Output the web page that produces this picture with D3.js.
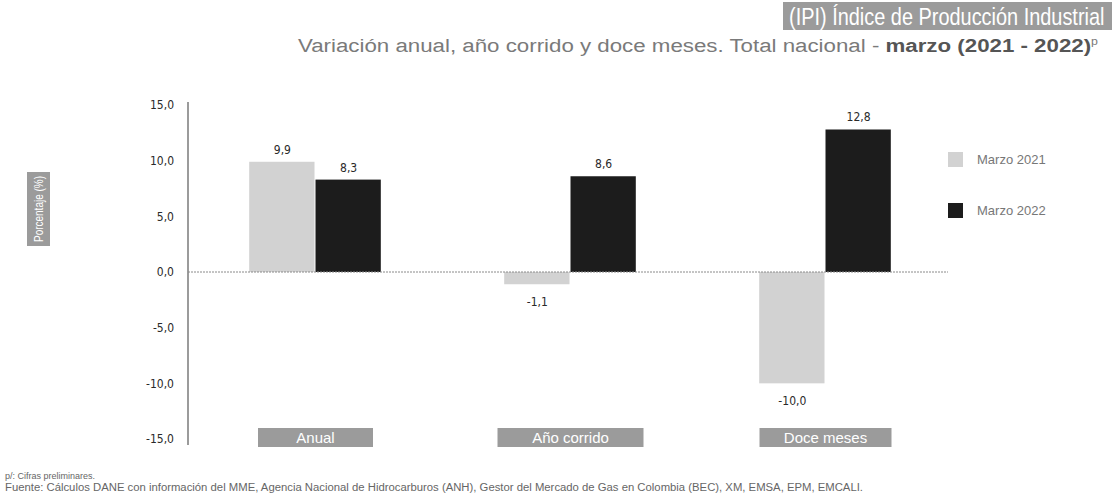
<!DOCTYPE html>
<html>
<head>
<meta charset="utf-8">
<script src="https://cdnjs.cloudflare.com/ajax/libs/d3/7.8.5/d3.min.js"></script>
<style>
  body { margin: 0; background: #fff; }
  svg { display: block; font-family: "Liberation Sans", Arial, sans-serif; }
</style>
</head>
<body>
<div id="chart"></div>
<script>
// data
var categories = ["Anual", "Año corrido", "Doce meses"];
var seriesNames = ["Marzo 2021", "Marzo 2022"];
var values2021 = [9.9, -1.1, -10.0];
var values2022 = [8.3, 8.6, 12.8];
var yTicks = [-15, -10, -5, 0, 5, 10, 15];

var W = 1112, H = 500;
var plot = {left: 188, right: 953, top: 105, bottom: 439};

var colors = ["#d2d2d2", "#1c1c1c"];
var boxGray = "#9b9b9b";

var fmt = function(v) { return d3.format(".1f")(v).replace(".", ",").replace("−", "-"); };

var svg = d3.select("#chart").append("svg")
    .attr("width", W)
    .attr("height", H);

// scales
var x0 = d3.scaleBand().domain(categories).range([plot.left, plot.right]).paddingInner(0.48).paddingOuter(0.24);
var x1 = d3.scaleBand().domain(seriesNames).range([0, x0.bandwidth()]).padding(0);
var y = d3.scaleLinear().domain([-15, 15]).range([plot.bottom, plot.top]);

// title box (text squeezed horizontally to fit like the condensed original)
svg.append("rect")
    .attr("x", 783).attr("y", 2)
    .attr("width", W - 783).attr("height", 28)
    .attr("fill", boxGray);
svg.append("text")
    .attr("transform", "translate(789,25) scale(0.83,1)")
    .attr("fill", "#fff")
    .style("font-size", "24px")
    .text("(IPI) Índice de Producción Industrial");

// subtitle
var sub = svg.append("text")
    .attr("x", 298).attr("y", 52)
    .attr("fill", "#7a7a7a")
    .attr("textLength", 800)
    .attr("lengthAdjust", "spacingAndGlyphs")
    .style("font-size", "18px");
sub.append("tspan").text("Variación anual, año corrido y doce meses. Total nacional - ");
sub.append("tspan").style("font-weight", "bold").attr("fill", "#555").text("marzo (2021 - 2022)");
sub.append("tspan").attr("dy", -7).style("font-size", "10px").text("p");

// y axis label box
svg.append("rect")
    .attr("x", 27).attr("y", 172)
    .attr("width", 23).attr("height", 74)
    .attr("fill", boxGray);
svg.append("text")
    .attr("transform", "translate(43," + 209 + ") rotate(-90)")
    .attr("text-anchor", "middle")
    .attr("fill", "#fff")
    .attr("textLength", 66)
    .attr("lengthAdjust", "spacingAndGlyphs")
    .style("font-size", "12px")
    .text("Porcentaje (%)");

// y axis
var yAxis = svg.append("g")
    .attr("transform", "translate(" + plot.left + ",0)")
    .call(d3.axisLeft(y).tickValues(yTicks).tickSize(0).tickPadding(14).tickFormat(fmt));
yAxis.select(".domain")
    .attr("stroke", "#7a7a7a")
    .attr("stroke-width", 1.5)
    .attr("d", "M0," + (plot.top - 3) + "V" + (plot.bottom + 6));
yAxis.selectAll("text")
    .attr("fill", "#2a2a2a")
    .style("font-size", "12px")
    .style("font-family", "'DejaVu Sans Condensed', sans-serif");

// bars
var rows = categories.map(function(c, i) {
    return {cat: c, vals: [values2021[i], values2022[i]]};
});

var groups = svg.selectAll(".grp")
    .data(rows)
    .enter().append("g")
    .attr("class", "grp")
    .attr("transform", function(d) { return "translate(" + x0(d.cat) + ",0)"; });

groups.selectAll("rect")
    .data(function(d) { return d.vals.map(function(v, j) { return {s: seriesNames[j], v: v, j: j}; }); })
    .enter().append("rect")
    .attr("x", function(d) { return x1(d.s); })
    .attr("width", x1.bandwidth() - 1)
    .attr("y", function(d) { return y(Math.max(0, d.v)); })
    .attr("height", function(d) { return Math.abs(y(d.v) - y(0)); })
    .attr("fill", function(d) { return colors[d.j]; });

// value labels
groups.selectAll(".val")
    .data(function(d) { return d.vals.map(function(v, j) { return {s: seriesNames[j], v: v, j: j}; }); })
    .enter().append("text")
    .attr("class", "val")
    .attr("x", function(d) { return x1(d.s) + x1.bandwidth() / 2; })
    .attr("y", function(d) { return d.v >= 0 ? y(d.v) - 8 : y(d.v) + 22; })
    .attr("text-anchor", "middle")
    .attr("fill", "#2a2a2a")
    .style("font-size", "12px")
    .style("font-family", "'DejaVu Sans Condensed', sans-serif")
    .text(function(d) { return fmt(d.v); });

// zero line
svg.append("line")
    .attr("x1", plot.left).attr("x2", plot.right - 5)
    .attr("y1", y(0)).attr("y2", y(0))
    .attr("stroke", "#8a8a8a")
    .attr("stroke-width", 1)
    .attr("stroke-dasharray", "2,1");

// category label boxes
var catW = [115, 146, 132];
categories.forEach(function(c, i) {
    var cx = x0(c) + x0.bandwidth() / 2;
    svg.append("rect")
        .attr("x", cx - catW[i] / 2).attr("y", 428)
        .attr("width", catW[i]).attr("height", 19)
        .attr("fill", boxGray);
    svg.append("text")
        .attr("x", cx).attr("y", 443)
        .attr("text-anchor", "middle")
        .attr("fill", "#fff")
        .style("font-size", "15px")
        .text(c);
});

// legend
var legend = svg.selectAll(".leg")
    .data(seriesNames)
    .enter().append("g")
    .attr("class", "leg")
    .attr("transform", function(d, i) { return "translate(948," + (152 + i * 51) + ")"; });
legend.append("rect")
    .attr("width", 15).attr("height", 15)
    .attr("fill", function(d, i) { return colors[i]; });
legend.append("text")
    .attr("x", 29).attr("y", 12)
    .attr("fill", "#777")
    .style("font-size", "13px")
    .text(function(d) { return d; });

// footnotes
svg.append("text")
    .attr("x", 5).attr("y", 479)
    .attr("fill", "#666")
    .style("font-size", "9px")
    .text("p/: Cifras preliminares.");
svg.append("text")
    .attr("x", 5).attr("y", 491)
    .attr("fill", "#666")
    .attr("textLength", 858)
    .attr("lengthAdjust", "spacingAndGlyphs")
    .style("font-size", "10px")
    .text("Fuente: Cálculos DANE con información del MME, Agencia Nacional de Hidrocarburos (ANH), Gestor del Mercado de Gas en Colombia (BEC), XM, EMSA, EPM, EMCALI.");
</script>
</body>
</html>
